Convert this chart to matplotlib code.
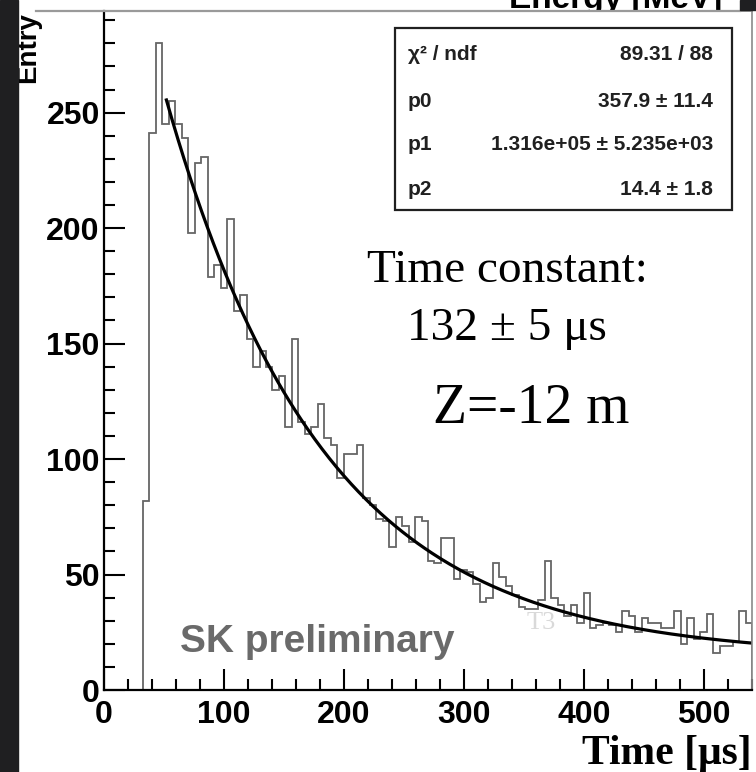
import numpy as np
import matplotlib
matplotlib.use('Agg')
import matplotlib.pyplot as plt
from matplotlib.patches import Rectangle
from matplotlib.lines import Line2D

# histogram: 100 bins, 0 - 540 us
n_bins = 100
t_max = 540.0
entries = [0, 0, 0, 0, 0, 0, 82, 241, 280, 245,
           255, 245, 239, 198, 228, 231, 179, 184, 174, 204,
           164, 171, 152, 140, 147, 140, 130, 136, 114, 152,
           116, 111, 114, 124, 109, 106, 92, 102, 102, 106,
           83, 80, 74, 73, 62, 75, 71, 64, 75, 73,
           56, 55, 66, 66, 48, 52, 51, 46, 38, 40,
           55, 49, 45, 41, 36, 35, 35, 39, 56, 40,
           37, 32, 37, 29, 42, 27, 28, 29, 28, 25,
           34, 32, 25, 31, 29, 29, 27, 27, 34, 20,
           31, 22, 25, 33, 16, 19, 19, 21, 34, 29]

# fit: p0*exp(-t/tau) + p2
p0 = 357.9
p1 = 1.316e+05
p2 = 14.4
fit_start = 52.0

stats_names = ['χ² / ndf', 'p0', 'p1', 'p2']
stats_values = ['89.31 / 88', '357.9 ± 11.4', '1.316e+05 ± 5.235e+03', '14.4 ± 1.8']

W, H = 756, 772
plt.rcParams['font.family'] = ['Liberation Sans', 'DejaVu Sans']
plt.rcParams['font.weight'] = 'bold'


def px(x, y):
    return x / W, 1 - y / H


fig = plt.figure(figsize=(W / 100, H / 100), dpi=100)
fig.patch.set_facecolor('white')

# dark screenshot borders
fig.add_artist(Rectangle((0, 0), 18 / W, 1, transform=fig.transFigure,
                         color='#1f1f21', zorder=10))
fig.add_artist(Rectangle(px(740, 10), 16 / W, 10 / H, transform=fig.transFigure,
                         color='#1f1f21', zorder=10))
fig.add_artist(Line2D([36 / W, 740 / W], [1 - 11 / H, 1 - 11 / H],
                      transform=fig.transFigure, color='#9a9a9a', lw=1.6, zorder=6))

# label of the pad above, cut by the screenshot edge as in the original
fig.text(*px(722, 8), 'Energy [MeV]', ha='right', va='baseline', fontsize=24,
         fontweight='bold', zorder=-1)

ax = fig.add_axes([104 / W, 1 - 690 / H, 648 / W, 679 / H])
ax.set_facecolor('white')

edges = np.linspace(0, t_max, n_bins + 1)
ax.stairs(entries, edges, color='#666666', lw=1.3)

tau = p1 / 1000.0
t = np.linspace(fit_start, t_max, 400)
ax.plot(t, p0 * np.exp(-t / tau) + p2, color='black', lw=2.3)

ax.set_xlim(0, t_max)
ax.set_ylim(0, 294)
ax.set_xticks(np.arange(0, 501, 100))
ax.set_xticks(np.arange(0, 541, 20), minor=True)
ax.set_yticks(np.arange(0, 251, 50))
ax.set_yticks(np.arange(0, 291, 10), minor=True)
ax.tick_params(which='both', direction='in', width=1.5, color='black',
               top=False, right=False)
ax.tick_params(which='major', length=15, labelsize=23)
ax.tick_params(axis='x', which='major', pad=7)
ax.tick_params(axis='y', which='major', pad=3)
ax.tick_params(which='minor', length=8)
for s in ['left', 'bottom']:
    ax.spines[s].set_linewidth(1.6)
    ax.spines[s].set_color('black')
for s in ['top', 'right']:
    ax.spines[s].set_linewidth(1.2)
    ax.spines[s].set_color('#8a8a8a')

fig.text(*px(28, 12), 'Entry', rotation=90, ha='center', va='top',
         fontsize=20, fontweight='bold')
fig.text(*px(752, 764), 'Time [μs]', ha='right', va='baseline', fontsize=30,
         fontweight='bold', family=['Liberation Serif', 'DejaVu Serif'])

# stats box
fig.add_artist(Rectangle(px(395, 210), 337 / W, 182 / H, transform=fig.transFigure,
                         facecolor='white', edgecolor='#202020', lw=1.6, zorder=4))
row_base = [60, 107, 150, 195]
for name, val, yb in zip(stats_names, stats_values, row_base):
    fig.text(*px(408, yb), name, ha='left', va='baseline', fontsize=15,
             color='#202020', zorder=5)
    fig.text(*px(713, yb), val, ha='right', va='baseline', fontsize=15,
             color='#202020', zorder=5)

serif = ['Liberation Serif', 'DejaVu Serif']
fig.text(*px(367, 282), 'Time constant:', ha='left', va='baseline', fontsize=34,
         fontweight='normal', family=serif)
fig.text(*px(507, 340), '132 ± 5 μs', ha='center', va='baseline', fontsize=34,
         fontweight='normal', family=serif)
fig.text(*px(433, 423), 'Z=-12 m', ha='left', va='baseline', fontsize=40,
         fontweight='normal', family=serif)
fig.text(*px(180, 652), 'SK preliminary', ha='left', va='baseline', fontsize=28,
         fontweight='bold', color='#6a6a6a')
fig.text(*px(527, 629), 'T3', ha='left', va='baseline', fontsize=19,
         fontweight='normal', color='#d9d9d9', family=serif)

fig.savefig('out.png', dpi=100)
